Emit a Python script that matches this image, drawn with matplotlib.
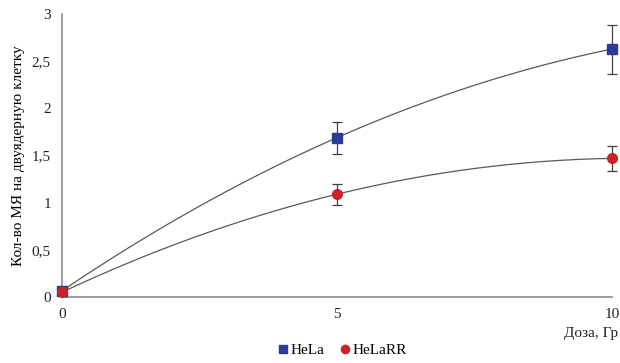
import numpy as np
import matplotlib
matplotlib.use("Agg")
import matplotlib.pyplot as plt

plt.rcParams['font.family'] = ['Liberation Serif', 'DejaVu Serif']

dose = [0, 5, 10]
hela = [0.065, 1.69, 2.63]
hela_err = [0.0, 0.17, 0.26]
helarr = [0.05, 1.09, 1.47]
helarr_err = [0.0, 0.11, 0.13]
xticks = [0, 5, 10]
yticks = [0, 0.5, 1, 1.5, 2, 2.5, 3]
yticklabels = ["0", "0,5", "1", "1,5", "2", "2,5", "3"]

fig = plt.figure(figsize=(6.2, 3.63), dpi=100)
ax = fig.add_axes([0.1, 0.182, 0.887, 0.779])

xs = np.linspace(0, 10, 200)
for y in (hela, helarr):
    c = np.polyfit(dose, y, 2)
    ax.plot(xs, np.polyval(c, xs), color='#595959', lw=0.9, zorder=2)

eb1 = ax.errorbar(dose, hela, yerr=hela_err, fmt='s', color='#2b3a9b', ms=7,
                  ecolor='#404040', elinewidth=0.9, capsize=3.5, capthick=0.9,
                  label='HeLa', zorder=3)
eb2 = ax.errorbar(dose, helarr, yerr=helarr_err, fmt='o', color='#cc2229', ms=7,
                  ecolor='#404040', elinewidth=0.9, capsize=3.5, capthick=0.9,
                  label='HeLaRR', zorder=3)
for eb in (eb1, eb2):
    eb[0].set_clip_on(False)
    for a in eb[1]:
        a.set_clip_on(False)
    for a in eb[2]:
        a.set_clip_on(False)

ax.set_xlim(0, 10)
ax.set_ylim(0, 3)
ax.set_xticks(xticks)
ax.set_yticks(yticks)
ax.set_yticklabels(yticklabels)
ax.tick_params(length=0, labelsize=11, pad=8, colors='#222222')
for s in ('top', 'right'):
    ax.spines[s].set_visible(False)
for s in ('left', 'bottom'):
    ax.spines[s].set_color('#8c8c8c')
    ax.spines[s].set_linewidth(1.2)
ax.set_ylabel('Кол-во МЯ на двуядерную клетку', fontsize=11, labelpad=5)
fig.text(618 / 620, 1 - 333 / 363, 'Доза, Гр', fontsize=11, ha='right', va='center',
         color='#222222')

handles, labels = ax.get_legend_handles_labels()
handles = [h[0] for h in handles]
fig.legend(handles, labels, loc='center', bbox_to_anchor=(341 / 620, 1 - 350 / 363),
           ncol=2, frameon=False, fontsize=11, handletextpad=0.0,
           columnspacing=0.8, handlelength=1.0, markerscale=0.85,
           borderpad=0)

fig.savefig('out.png', dpi=100)
